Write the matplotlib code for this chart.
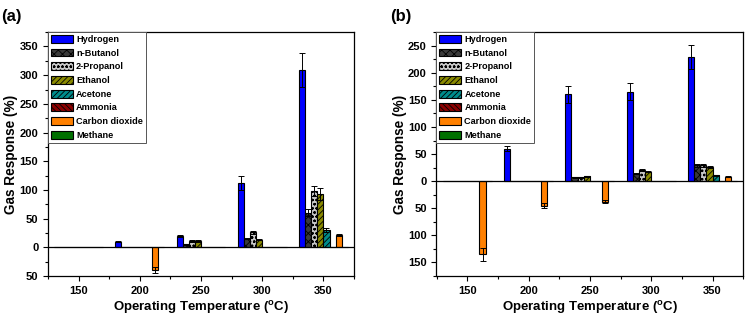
import numpy as np
import matplotlib.pyplot as plt
from matplotlib.ticker import FuncFormatter, MultipleLocator

plt.rcParams['font.family'] = ['Liberation Sans', 'DejaVu Sans']
plt.rcParams['font.weight'] = 'bold'
plt.rcParams['hatch.linewidth'] = 0.6

temps = [150, 200, 250, 300, 350]
gases = ['Hydrogen', 'n-Butanol', '2-Propanol', 'Ethanol', 'Acetone',
         'Ammonia', 'Carbon dioxide', 'Methane']
colors = ['#0000ff', '#3a3a3a', '#c8c8c8', '#8a8a00', '#008b8b',
          '#8b0000', '#ff8000', '#007000']
hatches = ['', 'xxxx', 'oooo', '//////', '//////', '\\\\\\\\\\\\', '', '']

# panel (a) responses (negative = inverted response)
a_hydrogen = [0, 10, 20, 112, 309]
a_butanol = [0, 0, 5, 15, 60]
a_propanol = [0, 0, 11, 26, 98]
a_ethanol = [0, 0, 11, 13, 93]
a_acetone = [0, 0, 0, 0, 30]
a_ammonia = [0, 0, 0, 0, 0]
a_co2 = [0, -40, 0, 0, 22]
a_methane = [0, 0, 0, 0, 0]
a_hydrogen_err = [0, 1, 2, 12, 30]
a_butanol_err = [0, 0, 1, 1, 6]
a_propanol_err = [0, 0, 1, 3, 9]
a_ethanol_err = [0, 0, 1, 1, 10]
a_acetone_err = [0, 0, 0, 0, 3]
a_co2_err = [0, 5, 0, 0, 2]

# panel (b)
b_hydrogen = [0, 60, 160, 165, 229]
b_butanol = [0, 0, 7, 14, 29]
b_propanol = [0, 0, 7, 21, 29]
b_ethanol = [0, 0, 9, 17, 26]
b_acetone = [0, 0, 0, 0, 11]
b_ammonia = [0, 0, 0, 0, 0]
b_co2 = [-135, -45, -38, 0, 8]
b_methane = [0, 0, 0, 0, 0]
b_hydrogen_err = [0, 5, 15, 16, 22]
b_butanol_err = [0, 0, 1, 1, 2]
b_propanol_err = [0, 0, 1, 2, 3]
b_ethanol_err = [0, 0, 1, 1, 2]
b_acetone_err = [0, 0, 0, 0, 1]
b_co2_err = [12, 4, 3, 0, 1]

zeros = [0, 0, 0, 0, 0]
panels = [
    ('(a)', [a_hydrogen, a_butanol, a_propanol, a_ethanol, a_acetone, a_ammonia, a_co2, a_methane],
     [a_hydrogen_err, a_butanol_err, a_propanol_err, a_ethanol_err, a_acetone_err, zeros, a_co2_err, zeros],
     (-50, 375)),
    ('(b)', [b_hydrogen, b_butanol, b_propanol, b_ethanol, b_acetone, b_ammonia, b_co2, b_methane],
     [b_hydrogen_err, b_butanol_err, b_propanol_err, b_ethanol_err, b_acetone_err, zeros, b_co2_err, zeros],
     (-175, 275)),
]

fig = plt.figure(figsize=(7.5, 3.18), dpi=100)
positions = [[0.064, 0.132, 0.408, 0.767], [0.582, 0.132, 0.409, 0.767]]
width = 5
x = np.array(temps, dtype=float)

for (tag, vals, errs, ylim), pos in zip(panels, positions):
    ax = fig.add_axes(pos)
    for i, (v, e) in enumerate(zip(vals, errs)):
        xs = x + (i - 3.5) * width
        v = np.array(v, dtype=float)
        e = np.array(e, dtype=float)
        ax.bar(xs, v, width, color=colors[i], hatch=hatches[i], edgecolor='black',
               linewidth=0.8, label=gases[i], zorder=2)
        m = e > 0
        ax.errorbar(xs[m], v[m], yerr=e[m], fmt='none', ecolor='black',
                    elinewidth=0.7, capsize=2, capthick=0.7, zorder=3)
    ax.axhline(0, color='black', lw=0.9, zorder=4)
    ax.set_xlim(125, 375)
    ax.set_ylim(*ylim)
    ax.xaxis.set_major_locator(MultipleLocator(50))
    ax.xaxis.set_minor_locator(MultipleLocator(25))
    ax.yaxis.set_major_locator(MultipleLocator(50))
    ax.yaxis.set_minor_locator(MultipleLocator(25))
    ax.yaxis.set_major_formatter(FuncFormatter(lambda v, p: f"{abs(v):g}"))
    ax.tick_params(labelsize=8, width=0.8, length=3.5)
    ax.tick_params(which='minor', width=0.8, length=2)
    for s in ax.spines.values():
        s.set_linewidth(0.9)
    ax.set_xlabel('Operating Temperature ($\\mathregular{^{o}}$C)', fontsize=9.5,
                  fontweight='bold', labelpad=2)
    ax.set_ylabel('Gas Response (%)', fontsize=9.8, fontweight='bold', labelpad=1)
    leg = ax.legend(loc='upper left', fontsize=6.6, handlelength=2.4, handleheight=0.95,
                    labelspacing=0.5, handletextpad=0.35, borderaxespad=0,
                    borderpad=0.3, fancybox=False, framealpha=1)
    leg.get_frame().set_edgecolor('#555555')
    leg.get_frame().set_linewidth(0.7)
    fig.text(pos[0] - 0.062, 0.935, tag, fontsize=12, fontweight='bold')

fig.savefig('out.png', dpi=100)
